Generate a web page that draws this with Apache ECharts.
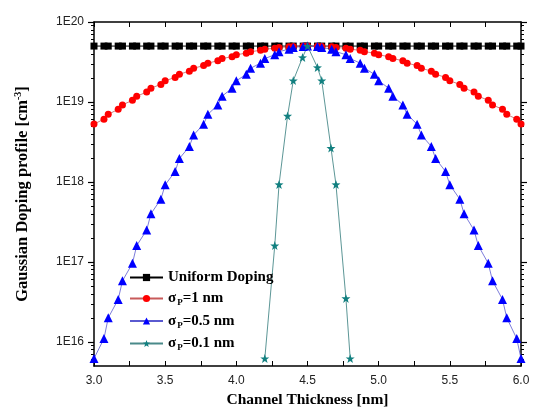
<!DOCTYPE html>
<html>
<head>
<meta charset="utf-8">
<script src="https://cdn.jsdelivr.net/npm/echarts@6/dist/echarts.min.js"></script>
<style>
html,body{margin:0;padding:0;background:#fff;}
#chart{width:534px;height:416px;}
</style>
</head>
<body>
<div id="chart"></div>
<script>
// x positions shared by the uniform, sigma=1 and sigma=0.5 curves
const xGrid = [3.0,3.07,3.1,3.17,3.2,3.27,3.3,3.37,3.4,3.47,3.5,3.57,3.6,3.67,3.7,3.77,3.8,3.87,3.9,3.97,
  4.0,4.07,4.1,4.17,4.2,4.27,4.3,4.37,4.4,4.47,4.5,4.57,4.6,4.67,4.7,4.77,4.8,4.87,4.9,4.97,
  5.0,5.07,5.1,5.17,5.2,5.27,5.3,5.37,5.4,5.47,5.5,5.57,5.6,5.67,5.7,5.77,5.8,5.87,5.9,5.97,6.0];

const uniformDoping = [5e19,5e19,5e19,5e19,5e19,5e19,5e19,5e19,5e19,5e19,5e19,5e19,5e19,5e19,5e19,5e19,5e19,5e19,5e19,5e19,
  5e19,5e19,5e19,5e19,5e19,5e19,5e19,5e19,5e19,5e19,5e19,5e19,5e19,5e19,5e19,5e19,5e19,5e19,5e19,5e19,
  5e19,5e19,5e19,5e19,5e19,5e19,5e19,5e19,5e19,5e19,5e19,5e19,5e19,5e19,5e19,5e19,5e19,5e19,5e19,5e19,5e19];

const sigma1 = [5.3e18,6.1e18,7.0e18,8.1e18,9.2e18,1.05e19,1.18e19,1.33e19,1.49e19,1.66e19,1.84e19,2.03e19,2.22e19,2.43e19,2.64e19,2.85e19,3.06e19,3.28e19,3.49e19,3.69e19,
  3.89e19,4.08e19,4.26e19,4.42e19,4.57e19,4.70e19,4.80e19,4.89e19,4.95e19,4.99e19,5.0e19,4.99e19,4.95e19,4.89e19,4.80e19,4.70e19,4.57e19,4.42e19,4.26e19,4.08e19,
  3.89e19,3.69e19,3.49e19,3.28e19,3.06e19,2.85e19,2.64e19,2.43e19,2.22e19,2.03e19,1.84e19,1.66e19,1.49e19,1.33e19,1.18e19,1.05e19,9.2e18,8.1e18,7.0e18,6.1e18,5.3e18];

const sigma05 = [6.2e15,1.1e16,2.0e16,3.4e16,5.8e16,9.6e16,1.6e17,2.5e17,4.0e17,6.1e17,9.2e17,1.35e18,1.96e18,2.78e18,3.87e18,5.27e18,7.0e18,9.2e18,1.18e19,1.49e19,
  1.84e19,2.22e19,2.64e19,3.06e19,3.49e19,3.9e19,4.26e19,4.57e19,4.8e19,4.95e19,5.0e19,4.95e19,4.8e19,4.57e19,4.26e19,3.9e19,3.49e19,3.06e19,2.64e19,2.22e19,
  1.84e19,1.49e19,1.18e19,9.2e18,7.0e18,5.27e18,3.87e18,2.78e18,1.96e18,1.35e18,9.2e17,6.1e17,4.0e17,2.5e17,1.6e17,9.6e16,5.8e16,3.4e16,2.0e16,1.1e16,6.2e15];

const xSigma01 = [4.2,4.27,4.3,4.36,4.4,4.465,4.5,4.57,4.6,4.665,4.7,4.77,4.8];
const sigma01 = [6.2e15,1.6e17,9.3e17,6.7e18,1.85e19,3.6e19,5.0e19,2.7e19,1.85e19,2.65e18,9.3e17,3.5e16,6.2e15];

const majorY = [1e16,1e17,1e18,1e19,1e20];
const minorY = [6e15,7e15,8e15,9e15,
  2e16,3e16,4e16,5e16,6e16,7e16,8e16,9e16,
  2e17,3e17,4e17,5e17,6e17,7e17,8e17,9e17,
  2e18,3e18,4e18,5e18,6e18,7e18,8e18,9e18,
  2e19,3e19,4e19,5e19,6e19,7e19,8e19,9e19];

const seriesNames = ['Uniform Doping','σP=1 nm','σP=0.5 nm','σP=0.1 nm'];
const legendRich = {
  'Uniform Doping':'{t|Uniform Doping}',
  'σP=1 nm':'{t|σ}{s|P}{t|=1 nm}',
  'σP=0.5 nm':'{t|σ}{s|P}{t|=0.5 nm}',
  'σP=0.1 nm':'{t|σ}{s|P}{t|=0.1 nm}'
};

const starPath = 'path://M0,-10 L2.35,-3.24 L9.51,-3.09 L3.8,1.24 L5.88,8.09 L0,4 L-5.88,8.09 L-3.8,1.24 L-9.51,-3.09 L-2.35,-3.24 Z';
const serif = 'Liberation Serif';
const sans = 'Liberation Sans';

const pairs = (xs, ys) => xs.map((x, i) => [x, ys[i]]);

const frame = {show:true, lineStyle:{color:'#000', width:1.5}};
const yCommon = {type:'log', logBase:10, min:5e15, max:1e20, splitLine:{show:false}};

const option = {
  animation:false,
  backgroundColor:'#fff',
  grid:{left:94, right:13, top:22, bottom:50},
  legend:{
    orient:'vertical', left:129, top:270, padding:0, itemGap:6, itemWidth:33, itemHeight:9,
    data:seriesNames,
    formatter:name => legendRich[name],
    textStyle:{
      fontFamily:serif, fontWeight:'bold', fontSize:15, color:'#000',
      rich:{
        t:{fontFamily:serif, fontWeight:'bold', fontSize:15, color:'#000'},
        s:{fontFamily:serif, fontWeight:'bold', fontSize:9, color:'#000', padding:[9,0,0,1]}
      }
    }
  },
  xAxis:[
    {type:'value', position:'bottom', min:3, max:6, interval:0.5,
     axisLine:frame,
     axisTick:{show:true, inside:true, length:5, lineStyle:{color:'#000', width:1}},
     minorTick:{show:true, splitNumber:2, length:5, lineStyle:{color:'#000', width:1}},
     axisLabel:{fontFamily:sans, fontSize:12, color:'#222', margin:9, formatter:v => v.toFixed(1)},
     splitLine:{show:false},
     name:'Channel Thickness [nm]', nameLocation:'middle', nameGap:24,
     nameTextStyle:{fontFamily:serif, fontWeight:'bold', fontSize:15.5, color:'#000'}},
    {type:'value', position:'top', min:3, max:6, interval:0.25,
     axisLine:frame,
     axisTick:{show:true, inside:true, length:5, lineStyle:{color:'#000', width:1}},
     axisLabel:{show:false}, splitLine:{show:false}}
  ],
  yAxis:[
    Object.assign({}, yCommon, {position:'left',
     axisLine:frame,
     axisTick:{show:true, inside:false, length:6, customValues:majorY, lineStyle:{color:'#000', width:1.2}},
     axisLabel:{customValues:majorY, fontFamily:sans, fontSize:12, color:'#222', margin:10,
       formatter:v => '1E' + Math.round(Math.log10(v))},
     name:'Gaussian Doping profile [cm{sup|-3}]', nameLocation:'middle', nameRotate:90, nameGap:62,
     nameTextStyle:{fontFamily:serif, fontWeight:'bold', fontSize:16.5, color:'#000',
       rich:{sup:{fontFamily:serif, fontWeight:'bold', fontSize:10, color:'#000', padding:[0,0,9,0]}}}}),
    Object.assign({}, yCommon, {position:'left',
     axisLine:{show:false},
     axisTick:{show:true, inside:false, length:3, customValues:minorY, lineStyle:{color:'#000', width:1}},
     axisLabel:{show:false}}),
    Object.assign({}, yCommon, {position:'right',
     axisLine:frame,
     axisTick:{show:true, inside:false, length:6, customValues:majorY, lineStyle:{color:'#000', width:1.2}},
     axisLabel:{show:false}}),
    Object.assign({}, yCommon, {position:'right',
     axisLine:{show:false},
     axisTick:{show:true, inside:false, length:3, customValues:minorY, lineStyle:{color:'#000', width:1}},
     axisLabel:{show:false}})
  ],
  series:[
    {name:seriesNames[0], type:'line', xAxisIndex:0, yAxisIndex:0, data:pairs(xGrid, uniformDoping),
     symbol:'rect', symbolSize:7, itemStyle:{color:'#000'}, lineStyle:{color:'#000', width:1}},
    {name:seriesNames[1], type:'line', xAxisIndex:0, yAxisIndex:0, data:pairs(xGrid, sigma1),
     symbol:'circle', symbolSize:7, itemStyle:{color:'#ff0000'}, lineStyle:{color:'#c85a5a', width:0.8}},
    {name:seriesNames[2], type:'line', xAxisIndex:0, yAxisIndex:0, data:pairs(xGrid, sigma05),
     symbol:'triangle', symbolSize:9, itemStyle:{color:'#0000ff'}, lineStyle:{color:'#5a5ad0', width:0.8}},
    {name:seriesNames[3], type:'line', xAxisIndex:0, yAxisIndex:0, data:pairs(xSigma01, sigma01),
     symbol:starPath, symbolSize:9, itemStyle:{color:'#128080'}, lineStyle:{color:'#4a8a8a', width:0.9}}
  ]
};

const chart = echarts.init(document.getElementById('chart'), null, {renderer:'canvas'});
chart.setOption(option);
</script>
</body>
</html>
